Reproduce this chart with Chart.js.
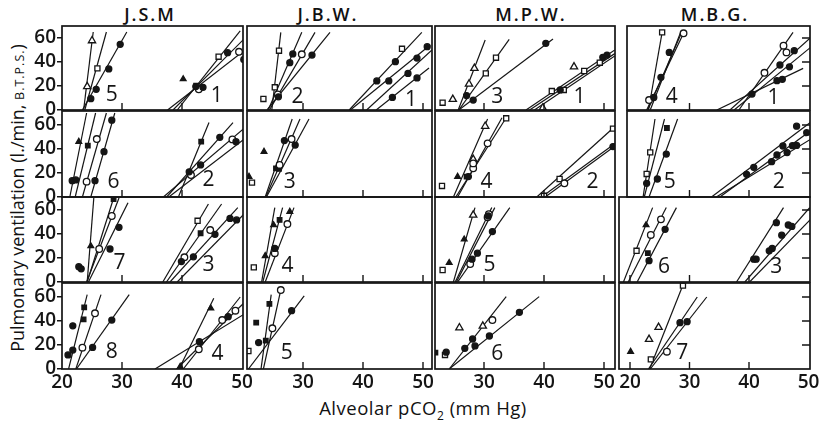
<!DOCTYPE html>
<html>
<head>
<meta charset="utf-8">
<script src="https://cdn.jsdelivr.net/npm/chart.js@4.4.1/dist/chart.umd.min.js"></script>
<style>
    body { margin: 0; background: #fff; width: 824px; height: 427px; position: relative; overflow: hidden; font-family: 'Open Sans', sans-serif; color: #111; }
    canvas { position: absolute; }
    .subj { position: absolute; top: 2px; font-size: 18px; font-weight: 600; letter-spacing: 2px; transform: translateX(-50%); white-space: nowrap; }
    .ytitle { position: absolute; left: 17px; top: 198px; transform: translate(-50%, -50%) rotate(-90deg); white-space: nowrap; font-size: 18px; font-weight: 500; }
    .ytitle small { font-size: 12.5px; letter-spacing: 1px; }
    .xtitle { position: absolute; left: 423px; top: 395px; transform: translateX(-50%); white-space: nowrap; font-size: 18.5px; font-weight: 500; letter-spacing: 0.5px; }
</style>
</head>
<body>
<div class="ytitle">Pulmonary ventilation (l./min, <small>B.T.P.S.</small>)</div>
<div class="xtitle">Alveolar pCO<sub style="font-size:12px">2</sub> (mm Hg)</div>
<script>
// tick labels
const X_TICKS = [20, 30, 40, 50];
const Y_TICKS = [0, 20, 40, 60];
const subjects = ['J.S.M', 'J.B.W.', 'M.P.W.', 'M.B.G.'];

// fitted lines: [row, x1, y1, x2, y2]
const jsmLines = [
    [0, 23.6, 0, 25.2, 65], [0, 23.8, 0, 27.4, 65], [0, 23.4, 0, 30.8, 65],
    [0, 37.6, 0, 51, 52], [0, 38.5, 0, 50.5, 60], [0, 39.2, 0, 49.7, 66],
    [1, 21.3, 0, 24.1, 70], [1, 22.2, 0, 25.6, 70], [1, 23.4, 0, 27.4, 70], [1, 24.8, 0, 28.8, 70],
    [1, 37.45, 0, 48.5, 62], [1, 36.9, 0, 50.3, 57], [1, 37.8, 0, 50.3, 48], [1, 39.4, 0, 44.5, 62],
    [2, 24.2, 0, 25.3, 70], [2, 24.2, 0, 28.6, 70], [2, 24.1, 0, 29.5, 70], [2, 24.4, 0, 31, 66],
    [2, 36.8, 0, 44.4, 65], [2, 37.4, 0, 46.6, 65], [2, 38.0, 0, 49.3, 62], [2, 39.2, 0, 51, 60],
    [3, 21.1, 0, 24.2, 62], [3, 22.3, 0, 26.5, 62], [3, 22.4, 0, 31.2, 62],
    [3, 35.5, 0, 50.3, 45.5], [3, 39.5, 0, 45.3, 59], [3, 40.2, 0, 49.7, 60], [3, 39.1, 0, 50.3, 55]
];
// observations: [row, pCO2, ventilation, symbol]
const jsmPoints = [
    [0, 24.2, 19.5, 'ot'], [0, 25.0, 57.8, 'ot'], [0, 25.9, 34.7, 'os'],
    [0, 24.8, 9.4, 'fc'], [0, 25.7, 17.2, 'fc'], [0, 27.8, 34.2, 'fc'], [0, 29.7, 54.7, 'fc'],
    [0, 40.2, 25.8, 'ft'], [0, 42.4, 20, 'os'], [0, 42.3, 19.5, 'fc'], [0, 42.8, 17.2, 'oc'],
    [0, 43.5, 18.9, 'fc'], [0, 46.1, 44.4, 'os'], [0, 47.6, 47.8, 'fc'], [0, 49.5, 48.5, 'oc'], [0, 50.3, 42, 'fc'],
    [1, 22.8, 46.1, 'ft'], [1, 21.7, 13.6, 'fc'], [1, 22.3, 14.2, 'fc'], [1, 24.3, 42.8, 'fs'],
    [1, 24.1, 12.8, 'oc'], [1, 25.8, 48.3, 'oc'], [1, 25.5, 13.6, 'fc'], [1, 27.0, 37.8, 'fc'], [1, 28.3, 64, 'fc'],
    [1, 41.2, 21, 'fc'], [1, 41.5, 18.3, 'oc'], [1, 43.1, 26.7, 'fc'], [1, 43.2, 46.1, 'fs'],
    [1, 46.3, 49.7, 'fc'], [1, 48.4, 48, 'oc'], [1, 49, 46.1, 'fc'],
    [2, 22.8, 12.8, 'fc'], [2, 23.2, 11, 'fc'], [2, 24.8, 30, 'ft'], [2, 28.6, 69, 'fs'],
    [2, 26.2, 27.5, 'oc'], [2, 28.3, 55, 'oc'], [2, 28, 27.5, 'fc'], [2, 29.5, 45.6, 'fc'],
    [2, 42.6, 51, 'os'], [2, 43.1, 40.6, 'fs'], [2, 44.7, 43.3, 'oc'], [2, 45.5, 39.7, 'fc'],
    [2, 40.4, 20.6, 'oc'], [2, 41.9, 21, 'fc'], [2, 39.9, 17, 'fc'], [2, 48, 53, 'fc'], [2, 49.1, 51.7, 'fc'],
    [3, 21, 11.7, 'fc'], [3, 21.8, 15.8, 'fc'], [3, 21.8, 36, 'fc'], [3, 23.6, 41.4, 'fs'], [3, 23.7, 51.4, 'fs'],
    [3, 23.4, 17.8, 'oc'], [3, 25.5, 46.4, 'oc'], [3, 25.1, 18, 'fc'], [3, 28.3, 40.8, 'fc'],
    [3, 39.7, 2, 'ft'], [3, 44.8, 50.6, 'ft'], [3, 42.8, 16.4, 'oc'], [3, 42.9, 22.8, 'fc'],
    [3, 46.7, 40.8, 'oc'], [3, 48.9, 48.6, 'oc'], [3, 47.7, 43.6, 'fc']
];
// experiment numbers: [row, label, pCO2, ventilation]
const jsmNumbers = [[0, '5', 28.3, 12.5], [0, '1', 45.8, 11.7], [1, '6', 28.6, 12.8], [1, '2', 44.4, 14.2],
    [2, '7', 29.6, 15.6], [2, '3', 44.4, 14.2], [3, '8', 28.3, 14.4], [3, '4', 45.9, 12.5]];

const jbwLines = [
    [0, 24.8, 0, 26.3, 64.7], [0, 24.2, 0, 29.8, 64.7], [0, 24.4, 0, 32, 64.7], [0, 24.0, 0, 34.5, 64.7],
    [0, 37.7, 0, 49.8, 64.7], [0, 37.9, 0, 51.2, 54.2], [0, 40.6, 0, 51.5, 50], [0, 42.2, 0, 51, 35],
    [1, 23.7, 0, 28.2, 65], [1, 23.8, 0, 29.5, 65], [1, 23.9, 0, 31, 65],
    [2, 23.1, 0, 25.3, 62], [2, 23.3, 0, 26.6, 62], [2, 23.7, 0, 28.5, 62],
    [3, 23.0, 0, 24.7, 62], [3, 23.4, 0, 26.3, 66], [3, 20.9, 0, 30.2, 61]
];
const jbwPoints = [
    [0, 23.4, 9.2, 'os'], [0, 25.3, 18.9, 'os'], [0, 26, 49.4, 'os'], [0, 27.8, 39.4, 'fc'], [0, 28.3, 46.7, 'fc'],
    [0, 29.8, 46.4, 'oc'], [0, 31.5, 45.8, 'fc'], [0, 25.9, 11, 'fc'], [0, 25.8, 13, 'oc'],
    [0, 46.5, 51, 'os'], [0, 42.3, 24.2, 'fc'], [0, 44.3, 24.2, 'fc'], [0, 45.4, 40.3, 'fc'], [0, 49, 43.3, 'fc'],
    [0, 50.7, 52.8, 'fc'], [0, 47.5, 30.5, 'fc'], [0, 49, 26.7, 'fc'], [0, 44.9, 10.5, 'fc'],
    [1, 23.5, 37.8, 'ft'], [1, 21, 17, 'ft'], [1, 21.5, 12, 'os'], [1, 26.9, 47, 'fc'], [1, 28.7, 43.3, 'fc'],
    [1, 28.1, 48.3, 'oc'], [1, 26.1, 26.7, 'oc'], [1, 25.5, 23.9, 'fs'], [1, 26, 23.5, 'fs'],
    [2, 25.1, 47.5, 'ft'], [2, 23.7, 21.7, 'ft'], [2, 26.1, 51.7, 'fs'], [2, 25.3, 28, 'fc'], [2, 25.3, 24, 'oc'],
    [2, 27.4, 48.3, 'oc'], [2, 27.8, 58.6, 'ft'], [2, 21.8, 12.2, 'os'],
    [3, 22.2, 38.6, 'fs'], [3, 24.4, 54.2, 'fs'], [3, 23.8, 23.6, 'fs'], [3, 22.6, 22, 'fc'], [3, 28.1, 48.6, 'fc'],
    [3, 26.3, 65.8, 'oc'], [3, 24.9, 33.9, 'oc'], [3, 20.9, 15, 'os']
];
const jbwNumbers = [[0, '2', 29.1, 11], [0, '1', 48, 8.3], [1, '3', 27.8, 12.8], [2, '4', 27.4, 13.3], [3, '5', 27.3, 13.6]];

const mpwLines = [
    [0, 25.7, 0, 30.2, 58.3], [0, 25.8, 0, 34.2, 58.9], [0, 25.8, 0, 41.5, 59.2],
    [0, 37.0, 0, 51.8, 50], [0, 37.6, 0, 51.8, 47], [0, 38.4, 0, 51.8, 45],
    [1, 24.9, 0, 30.6, 65], [1, 25.3, 0, 33.7, 66], [1, 25.6, 0, 33.0, 66],
    [1, 38.8, 0, 52.3, 61], [1, 39.6, 0, 52.5, 47], [1, 40.2, 0, 52.5, 45],
    [2, 24.9, 0, 28.5, 62], [2, 25.2, 0, 31.3, 62], [2, 25.4, 0, 31.8, 62], [2, 25.6, 0, 34.3, 62],
    [3, 24.2, 0, 33.7, 60.3], [3, 24.2, 0, 39.2, 60.3]
];
const mpwPoints = [
    [0, 23.1, 6.1, 'os'], [0, 24.8, 8.9, 'ot'], [0, 27.1, 12, 'fc'], [0, 27.5, 21.7, 'ot'], [0, 28.4, 34.7, 'ot'],
    [0, 30.3, 30.5, 'os'], [0, 32, 43.6, 'os'], [0, 28.2, 8.3, 'fc'], [0, 40.3, 55.6, 'fc'],
    [0, 45, 36, 'ot'], [0, 41.3, 15.8, 'os'], [0, 43.3, 16.7, 'os'], [0, 46.7, 32.5, 'os'], [0, 49.3, 39.4, 'os'],
    [0, 42.7, 16.7, 'fc'], [0, 49.8, 43.9, 'fc'], [0, 50.5, 45.8, 'fc'], [0, 39.8, 1.7, 'ot'],
    [1, 23, 9.2, 'os'], [1, 25.6, 17, 'ft'], [1, 27.1, 17, 'fs'], [1, 27.4, 17, 'fc'], [1, 28.2, 23.9, 'oc'],
    [1, 28.2, 28, 'oc'], [1, 30.6, 44.7, 'oc'], [1, 28.2, 31.4, 'ot'], [1, 30.2, 59, 'ot'], [1, 33.7, 65.6, 'os'],
    [1, 42.6, 15, 'os'], [1, 43.4, 11.4, 'oc'], [1, 40, 1, 'os'], [1, 51.5, 57, 'os'], [1, 51.5, 42, 'fc'],
    [2, 23.1, 10, 'os'], [2, 24.2, 16, 'ft'], [2, 26.7, 35.6, 'ft'], [2, 28.2, 55.8, 'ot'], [2, 30.6, 54, 'oc'],
    [2, 30.8, 56.5, 'oc'], [2, 30.7, 55, 'fc'], [2, 27.7, 15, 'oc'], [2, 28.9, 24, 'fc'], [2, 31.4, 42, 'fc'], [2, 28, 19, 'fc'],
    [3, 21.9, 13.6, 'fs'], [3, 23.5, 11.7, 'os'], [3, 23.7, 14, 'fc'], [3, 25.9, 34.4, 'ot'], [3, 29.8, 35.8, 'ot'],
    [3, 31.4, 40.8, 'oc'], [3, 26.8, 17.2, 'fc'], [3, 28.1, 25, 'fc'], [3, 28.5, 19.2, 'fc'], [3, 30.9, 27.5, 'fc'], [3, 35.9, 47.2, 'fc']
];
const mpwNumbers = [[0, '3', 32.2, 11], [0, '1', 45.9, 11], [1, '4', 30.4, 12.8], [1, '2', 48.1, 12.8],
    [2, '5', 30.9, 14.2], [3, '6', 32.2, 12.2]];

const mbgLines = [
    [0, 23.1, 0, 25.4, 64.7], [0, 22.8, 0, 29.0, 64], [0, 23.4, 0, 28.5, 64.7], [0, 23.0, 0, 28.8, 66],
    [0, 34.6, 0, 49.1, 34.7], [0, 36.8, 0, 50.3, 60], [0, 38.3, 0, 47.4, 64.7], [0, 37.5, 0, 50.3, 52],
    [1, 22.2, 0, 24.2, 65], [1, 22.4, 0, 25.8, 65], [1, 23.2, 0, 28, 65],
    [1, 33.7, 0, 50.3, 62], [1, 35.1, 0, 50.3, 55], [1, 34.5, 0, 50.3, 48],
    [2, 18.9, 0, 23.8, 62], [2, 19.7, 0, 26.1, 62], [2, 21.2, 0, 27.8, 62],
    [2, 37.9, 0, 45.8, 62], [2, 39.3, 0, 50.2, 62], [2, 40.1, 0, 50.3, 52],
    [3, 23.3, 0, 28.9, 70], [3, 23.1, 0, 31.3, 60], [3, 23.4, 0, 32.9, 60]
];
const mbgPoints = [
    [0, 25.4, 64.7, 'os'], [0, 29.0, 63.9, 'oc'], [0, 23.2, 8.3, 'oc'], [0, 26.6, 48, 'fc'], [0, 25.2, 27.2, 'fc'], [0, 24.0, 10.5, 'fc'],
    [0, 40.5, 13.3, 'fc'], [0, 42.6, 31, 'oc'], [0, 45.8, 53.6, 'oc'], [0, 45.2, 37.5, 'fc'], [0, 47.6, 49.4, 'fc'],
    [0, 44.7, 24.4, 'fc'], [0, 45.6, 25.6, 'fc'], [0, 46.8, 36, 'fc'], [0, 46.3, 48, 'oc'],
    [1, 23.4, 37.2, 'os'], [1, 22.8, 19.2, 'os'], [1, 22.8, 11.4, 'fc'], [1, 24.6, 15, 'fc'], [1, 26.1, 35.8, 'fc'], [1, 26.2, 57.5, 'fs'],
    [1, 39.6, 18.9, 'fc'], [1, 40.8, 24.7, 'fc'], [1, 43.8, 29.4, 'fc'], [1, 44.7, 35, 'fc'], [1, 45.7, 42.5, 'fc'],
    [1, 46.4, 37, 'fc'], [1, 47.3, 42.8, 'fc'], [1, 48, 43, 'fc'], [1, 49.7, 53.6, 'fc'], [1, 48, 59, 'fc'],
    [2, 22.7, 47.5, 'ft'], [2, 25.2, 52.2, 'oc'], [2, 23.5, 39.2, 'oc'], [2, 21.1, 26, 'os'], [2, 23, 24, 'fs'],
    [2, 23.2, 17.8, 'fc'], [2, 25.9, 43.9, 'fc'],
    [2, 44.6, 49.4, 'fc'], [2, 46.6, 47.5, 'fc'], [2, 47.2, 46.3, 'fc'], [2, 45.5, 39, 'fc'], [2, 43.9, 28, 'fc'],
    [2, 43.4, 26, 'fc'], [2, 40.8, 19, 'fc'], [2, 41.2, 19, 'fc'],
    [3, 28.9, 69.5, 'os'], [3, 23.5, 8, 'os'], [3, 24.8, 34.7, 'ot'], [3, 23.2, 24.7, 'ot'], [3, 20.1, 14.4, 'ft'],
    [3, 26.2, 14.4, 'oc'], [3, 28.4, 38.6, 'fc'], [3, 29.6, 39.4, 'fc']
];
const mbgNumbers = [[0, '4', 27.0, 11], [0, '1', 44.1, 9.7], [1, '5', 26.7, 12.8], [1, '2', 45, 12.8],
    [2, '6', 25.7, 12.8], [2, '3', 44.6, 12.8], [3, '7', 28.8, 13.6]];

const allLines = [jsmLines, jbwLines, mpwLines, mbgLines];
const allPoints = [jsmPoints, jbwPoints, mpwPoints, mbgPoints];
const allNumbers = [jsmNumbers, jbwNumbers, mpwNumbers, mbgNumbers];

// ---- layout of the panel grid (pixels) ----
const INK = '#151515';
const COL_PX = [[62, 243], [247, 432], [435, 615], [627, 810]];
const MBG_LEFT = [627, 627, 619, 619];
const COL_ORIGIN = [[62, 6], [243, 6], [424, 6], [630, 5.95]]; // pixel of pCO2 20, px per mm Hg
const ROW_PX = [[26, 110], [111, 197], [197, 282], [283, 369]];
const PX_PER_L = 1.2;
const PAD = 14, AXW = 46, AXH = 30;
const SUBJ_X = [150, 328, 531, 715];

const SYMBOLS = {
    fc: { pointStyle: 'circle', fill: true, r: 3 },
    oc: { pointStyle: 'circle', fill: false, r: 3.3 },
    fs: { pointStyle: 'rect', fill: true, r: 3.2 },
    os: { pointStyle: 'rect', fill: false, r: 3.6 },
    ft: { pointStyle: 'triangle', fill: true, r: 3.3 },
    ot: { pointStyle: 'triangle', fill: false, r: 4.2 }
};

const panelDeco = {
    id: 'panelDeco',
    afterDatasetsDraw(chart, args, opts) {
        const { ctx, chartArea: a, scales: { x, y } } = chart;
        ctx.save();
        ctx.strokeStyle = INK;
        ctx.lineWidth = 1.7;
        ctx.strokeRect(a.left, a.top, a.right - a.left, a.bottom - a.top);
        ctx.lineWidth = 1.4;
        ctx.beginPath();
        X_TICKS.forEach(v => {
            const px = x.getPixelForValue(v);
            if (px > a.left + 4 && px < a.right - 4) {
                ctx.moveTo(px, a.bottom);
                ctx.lineTo(px, a.bottom - 7);
            }
        });
        if (opts.rightTicks) {
            Y_TICKS.slice(1).forEach(v => {
                const py = y.getPixelForValue(v);
                ctx.moveTo(a.right, py);
                ctx.lineTo(a.right - 8, py);
            });
        }
        ctx.stroke();
        ctx.fillStyle = INK;
        ctx.font = '21px "Open Sans"';
        ctx.textAlign = 'center';
        ctx.textBaseline = 'middle';
        opts.numbers.forEach(n => {
            ctx.fillText(n[1], x.getPixelForValue(n[2]), y.getPixelForValue(n[3]));
        });
        ctx.restore();
    }
};

Chart.defaults.font.family = 'Open Sans';
Chart.defaults.color = INK;

function buildPanel(col, row) {
    const L = col === 3 ? MBG_LEFT[row] : COL_PX[col][0];
    const R = COL_PX[col][1];
    const [T, B] = ROW_PX[row];
    const [x0, s] = COL_ORIGIN[col];
    const xmin = 20 + (L - x0) / s;
    const xmax = 20 + (R - x0) / s;
    const ymax = (B - T) / PX_PER_L;
    const showX = row === 3, showY = col === 0;
    const padL = showY ? AXW : PAD;
    const padB = showX ? AXH : PAD;

    const canvas = document.createElement('canvas');
    canvas.width = R - L + padL + PAD;
    canvas.height = B - T + PAD + padB;
    canvas.style.left = (L - padL) + 'px';
    canvas.style.top = (T - PAD) + 'px';
    document.body.appendChild(canvas);

    const datasets = [];
    const pts = allPoints[col].filter(p => p[0] === row);
    Object.keys(SYMBOLS).forEach(k => {
        const sel = pts.filter(p => p[3] === k);
        if (!sel.length) return;
        const sym = SYMBOLS[k];
        datasets.push({
            data: sel.map(p => ({ x: p[1], y: p[2] })),
            pointStyle: sym.pointStyle,
            pointRadius: sym.r,
            backgroundColor: sym.fill ? INK : '#fff',
            borderColor: INK,
            borderWidth: 1.3,
            order: 0
        });
    });
    allLines[col].filter(l => l[0] === row).forEach(l => {
        datasets.push({
            data: [{ x: l[1], y: l[2] }, { x: l[3], y: l[4] }],
            showLine: true,
            pointRadius: 0,
            borderColor: INK,
            borderWidth: 1.2,
            order: 1
        });
    });

    new Chart(canvas, {
        type: 'scatter',
        data: { datasets },
        options: {
            responsive: false,
            animation: false,
            devicePixelRatio: 1,
            layout: { padding: { left: showY ? 0 : PAD, right: PAD, top: PAD, bottom: showX ? 0 : PAD } },
            plugins: {
                legend: { display: false },
                tooltip: { enabled: false },
                panelDeco: { numbers: allNumbers[col].filter(n => n[0] === row), rightTicks: col === 3 }
            },
            scales: {
                x: {
                    type: 'linear', min: xmin, max: xmax,
                    display: showX,
                    afterFit: sc => { if (showX) sc.height = AXH; },
                    afterBuildTicks: sc => { sc.ticks = X_TICKS.filter(v => v >= xmin - 0.01 && v <= xmax + 0.01).map(v => ({ value: v })); },
                    grid: { display: false, drawTicks: false },
                    border: { display: false },
                    ticks: { padding: 2, font: { size: 19, weight: '600' }, color: INK, maxRotation: 0 }
                },
                y: {
                    type: 'linear', min: 0, max: ymax,
                    display: showY,
                    afterFit: sc => { if (showY) sc.width = AXW; },
                    afterBuildTicks: sc => { sc.ticks = Y_TICKS.map(v => ({ value: v })); },
                    grid: { drawOnChartArea: false, drawTicks: true, tickLength: 5, color: INK, lineWidth: 1.5 },
                    border: { display: false },
                    ticks: { padding: 1, font: { size: 19, weight: '600' }, color: INK }
                }
            }
        },
        plugins: [panelDeco]
    });
}

subjects.forEach((name, col) => {
    const d = document.createElement('div');
    d.className = 'subj';
    d.style.left = SUBJ_X[col] + 'px';
    d.textContent = name;
    document.body.appendChild(d);
    for (let row = 0; row < 4; row++) {
        if (allLines[col].some(l => l[0] === row) || allPoints[col].some(p => p[0] === row)) {
            buildPanel(col, row);
        }
    }
});
</script>
</body>
</html>
